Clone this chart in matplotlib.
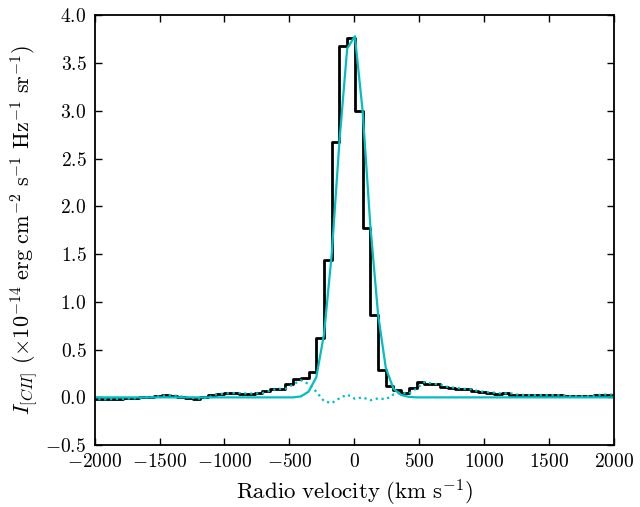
import matplotlib
matplotlib.use("Agg")
import matplotlib.pyplot as plt
import numpy as np

plt.rcParams['mathtext.fontset'] = 'cm'
plt.rcParams['font.family'] = 'serif'
plt.rcParams['font.serif'] = ['cmr10']
plt.rcParams['axes.formatter.use_mathtext'] = True
plt.rcParams['axes.unicode_minus'] = False

# channel grid (km/s), right edge of each channel
v0 = 5.0
dv = 59.5
chan = np.arange(-34, 35)
vel = v0 + dv * chan

# observed [CII] spectrum, one value per channel (1e-14 erg/cm2/s/Hz/sr)
flux = [-0.02, -0.02, -0.02, -0.015, -0.015, -0.01, -0.01, 0.0, 0.005, 0.015,
        0.025, 0.015, 0.005, -0.005, -0.015, 0.0, 0.03, 0.04, 0.045, 0.045,
        0.04, 0.04, 0.045, 0.07, 0.09, 0.09, 0.135, 0.19, 0.20, 0.27,
        0.62, 1.44, 2.67, 3.68, 3.765, 3.0, 1.77, 0.86, 0.29, 0.12,
        0.075, 0.045, 0.095, 0.16, 0.145, 0.135, 0.11, 0.10, 0.09, 0.085,
        0.065, 0.055, 0.05, 0.04, 0.045, 0.03, 0.025, 0.025, 0.025, 0.025,
        0.025, 0.02, 0.012, 0.012, 0.012, 0.015, 0.03, 0.03, 0.03]
flux = np.array(flux)

# gaussian fit, non-zero channels -7..7 only
fit_chan = np.arange(-7, 8)
fit_core = [0.01, 0.06, 0.21, 0.66, 1.50, 2.68, 3.65, 3.78,
            3.00, 1.80, 0.87, 0.31, 0.09, 0.025, 0.005]
model = np.zeros(len(vel))
model[fit_chan + 34] = fit_core

resid = flux - model

fig = plt.figure(figsize=(6.4, 5.07), dpi=100)
ax = fig.add_axes([0.148, 0.122, 0.811, 0.848])

ax.step(vel, flux, where='pre', color='k', lw=2.0)
ax.plot(vel, model, color='c', lw=1.6)
ax.plot(vel, resid, color='c', lw=1.6, ls=':')

ax.set_xlim(-2000, 2000)
ax.set_ylim(-0.5, 4.0)
ax.set_xticks(np.arange(-2000, 2001, 500))
ax.set_yticks(np.arange(-0.5, 4.01, 0.5))
ax.yaxis.set_major_formatter(matplotlib.ticker.FormatStrFormatter('$%.1f$'))
ax.xaxis.set_major_formatter(matplotlib.ticker.FuncFormatter(lambda x, p: '$%d$' % x))
ax.tick_params(direction='in', top=True, right=True, length=5, width=1, labelsize=14, pad=6)
for s in ax.spines.values():
    s.set_linewidth(1.3)

ax.set_xlabel(r'$\mathrm{Radio\ velocity\ (km\ s^{-1})}$', fontsize=16.5)
ax.set_ylabel(r'$I_{[CII]}\ (\times10^{-14}\ \mathrm{erg\ cm^{-2}\ s^{-1}\ Hz^{-1}\ sr^{-1}})$',
              fontsize=16)

fig.savefig('out.png', dpi=100)
